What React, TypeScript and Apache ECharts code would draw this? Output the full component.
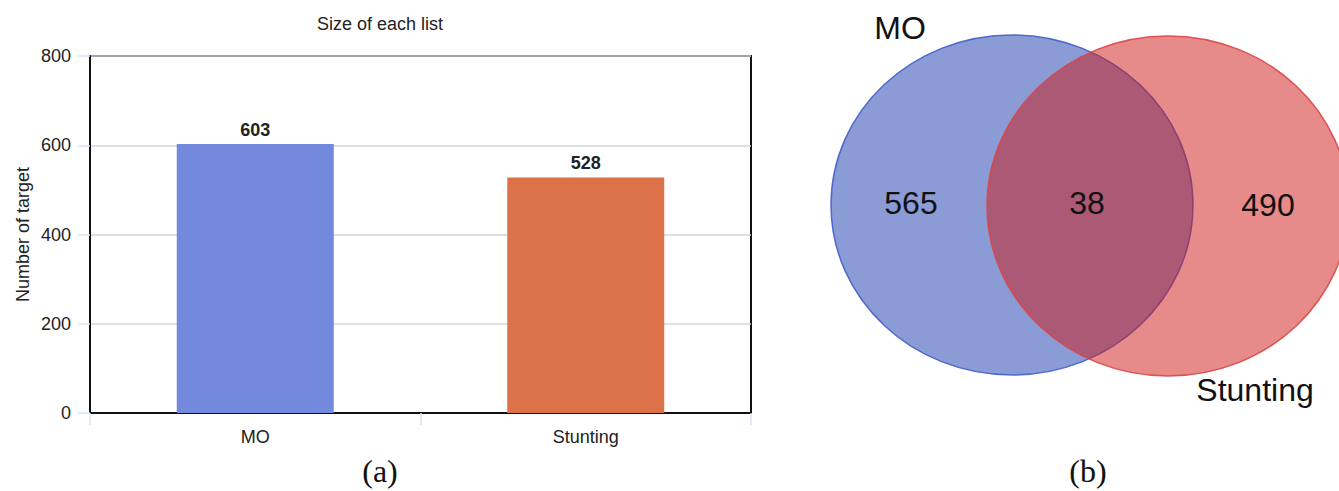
import React, { useEffect, useRef } from "react";
import * as echarts from "echarts";

const categories = ["MO", "Stunting"];
const listSizes = [603, 528];
const barColors = ["#7389dd", "#dc7249"];
const yTicks = [0, 200, 400, 600, 800];

const vennSets = ["MO", "Stunting"];
const vennOnlyCounts = [565, 490];
const vennOverlap = 38;

const SANS = "'Liberation Sans', Arial, sans-serif";
const SERIF = "'Liberation Serif', 'Times New Roman', serif";

export default function App() {
  const ref = useRef<HTMLDivElement>(null);
  useEffect(() => {
    document.body.style.margin = "0";
    const chart = echarts.init(ref.current!, null, { renderer: "svg" });
    chart.setOption({
      animation: false,
      backgroundColor: "#ffffff",
      grid: {
        left: 90,
        top: 56,
        right: 588,
        bottom: 78,
        show: true,
        borderColor: "#111",
        borderWidth: 2,
      },
      xAxis: {
        type: "category",
        data: categories,
        axisLine: { lineStyle: { color: "#111", width: 2 } },
        axisTick: { show: true, length: 12, lineStyle: { color: "#d6e4f5", width: 1.5 } },
        axisLabel: { fontFamily: SANS, fontSize: 18, color: "#222", margin: 15 },
      },
      yAxis: {
        type: "value",
        min: yTicks[0],
        max: yTicks[yTicks.length - 1],
        interval: 200,
        name: "Number of target",
        nameLocation: "middle",
        nameGap: 58,
        nameTextStyle: { fontFamily: SANS, fontSize: 18, color: "#222" },
        axisLine: { show: true, lineStyle: { color: "#111", width: 2 } },
        axisTick: { show: true, length: 12, lineStyle: { color: "#d6e4f5", width: 1.5 } },
        axisLabel: { fontFamily: SANS, fontSize: 18, color: "#222", margin: 19 },
        splitLine: { lineStyle: { color: "#d4d4d4", width: 1.5 } },
      },
      series: [
        {
          type: "bar",
          barWidth: "47.5%",
          data: listSizes.map((v, i) => ({ value: v, itemStyle: { color: barColors[i] } })),
          label: {
            show: true,
            position: "top",
            distance: 5,
            fontFamily: SANS,
            fontSize: 18,
            fontWeight: "bold",
            color: "#222",
          },
        },
      ],
      graphic: [
        {
          type: "text",
          x: 380,
          y: 24,
          style: { text: "Size of each list", font: `18px ${SANS}`, fill: "#222", align: "center", verticalAlign: "middle" },
        },
        {
          type: "text",
          x: 380,
          y: 471,
          style: { text: "(a)", font: `32px ${SERIF}`, fill: "#111", align: "center", verticalAlign: "middle" },
        },
        {
          type: "text",
          x: 1088,
          y: 471,
          style: { text: "(b)", font: `32px ${SERIF}`, fill: "#111", align: "center", verticalAlign: "middle" },
        },
        {
          type: "ellipse",
          shape: { cx: 1012, cy: 205, rx: 181, ry: 170 },
          style: { fill: "rgba(21,55,173,0.5)", stroke: "rgba(70,95,200,0.9)", lineWidth: 1.5 },
        },
        {
          type: "ellipse",
          shape: { cx: 1168, cy: 206, rx: 181, ry: 170 },
          style: { fill: "rgba(205,23,21,0.5)", stroke: "rgba(220,70,70,0.9)", lineWidth: 1.5 },
        },
        {
          type: "text",
          x: 900,
          y: 28,
          style: { text: vennSets[0], font: `32px ${SANS}`, fill: "#111", align: "center", verticalAlign: "middle" },
        },
        {
          type: "text",
          x: 1255,
          y: 390,
          style: { text: vennSets[1], font: `32px ${SANS}`, fill: "#111", align: "center", verticalAlign: "middle" },
        },
        {
          type: "text",
          x: 911,
          y: 203,
          style: { text: String(vennOnlyCounts[0]), font: `32px ${SANS}`, fill: "#111", align: "center", verticalAlign: "middle" },
        },
        {
          type: "text",
          x: 1087,
          y: 203,
          style: { text: String(vennOverlap), font: `32px ${SANS}`, fill: "#111", align: "center", verticalAlign: "middle" },
        },
        {
          type: "text",
          x: 1268,
          y: 205,
          style: { text: String(vennOnlyCounts[1]), font: `32px ${SANS}`, fill: "#111", align: "center", verticalAlign: "middle" },
        },
      ],
    });
    return () => chart.dispose();
  }, []);
  return <div ref={ref} style={{ width: 1339, height: 491 }} />;
}
